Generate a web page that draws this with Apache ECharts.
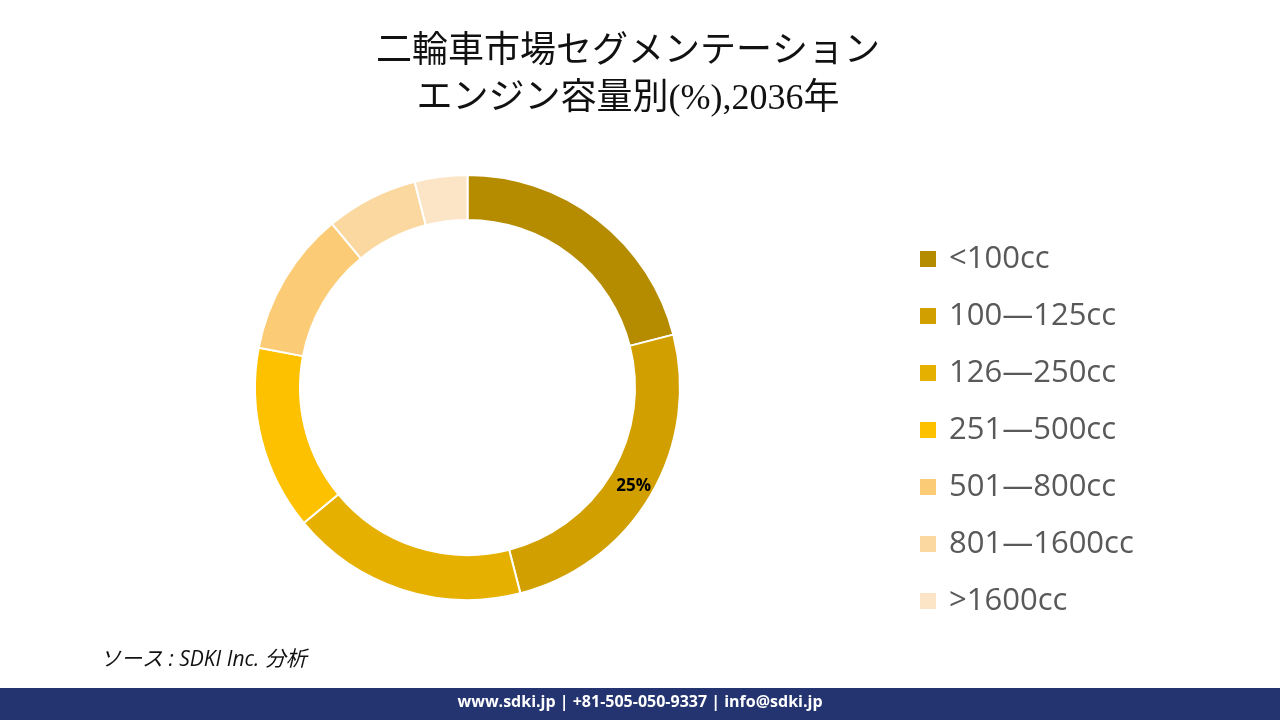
<!DOCTYPE html>
<html>
<head>
<meta charset="utf-8">
<script src="https://cdn.jsdelivr.net/npm/echarts@6/dist/echarts.min.js"></script>
<style>
html,body{margin:0;padding:0;background:#fff;}
#chart{width:1280px;height:720px;}
</style>
</head>
<body>
<div id="chart"></div>
<script>
const categories = ['<100cc', '100—125cc', '126—250cc', '251—500cc', '501—800cc', '801—1600cc', '>1600cc'];
const shares = [21, 25, 18, 14, 11, 7, 4];
const colors = ['#B58B00', '#D1A000', '#E6B000', '#FDC100', '#FCCB75', '#FBD8A0', '#FCE4C6'];
const labelledCategory = '100—125cc';
const titleText = '二輪車市場セグメンテーション\nエンジン容量別(%),2036年';
const sourceText = 'ソース : SDKI Inc. 分析';
const footerText = 'www.sdki.jp | +81-505-050-9337 | info@sdki.jp';

const chart = echarts.init(document.getElementById('chart'), null, {renderer: 'canvas'});
const data = categories.map((c, i) => {
  const d = {name: c, value: shares[i], itemStyle: {color: colors[i]}};
  if (c === labelledCategory) {
    d.label = {show: true, position: 'inside', formatter: '{c}%', color: '#000', fontWeight: 'bold', fontSize: 17, fontFamily: '"Open Sans", sans-serif'};
  }
  return d;
});
chart.setOption({
  backgroundColor: '#fff',
  animation: false,
  title: {
    text: titleText,
    left: 628, top: 29, textAlign: 'center', padding: 0,
    textStyle: {fontFamily: '"Liberation Serif", "Noto Sans CJK JP", serif', fontSize: 36, fontWeight: 'normal', color: '#111', lineHeight: 47}
  },
  legend: {
    orient: 'vertical', left: 918, top: 243, padding: 0,
    icon: 'rect', itemWidth: 18, itemHeight: 18, itemGap: 25,
    data: categories,
    textStyle: {fontFamily: '"Open Sans", "Noto Sans CJK JP", sans-serif', fontSize: 31, color: '#595959', lineHeight: 32, padding: [0,0,0,7]}
  },
  graphic: [
    {type: 'text', left: 100, top: 650, style: {text: sourceText, font: 'italic 21px "Open Sans", "Noto Sans CJK JP", sans-serif', fill: '#111'}},
    {type: 'rect', left: 0, top: 688, shape: {width: 1280, height: 32}, style: {fill: '#243470'}},
    {type: 'text', left: 'center', top: 694, style: {text: footerText, font: 'bold 16px "Open Sans", sans-serif', fill: '#fff'}}
  ],
  series: [{
    type: 'pie',
    center: [467.5, 387.5],
    radius: [167.5, 212.5],
    startAngle: 90,
    clockwise: true,
    label: {show: false},
    labelLine: {show: false},
    itemStyle: {borderColor: '#fff', borderWidth: 2},
    emphasis: {disabled: true},
    data: data
  }]
});
</script>
</body>
</html>
